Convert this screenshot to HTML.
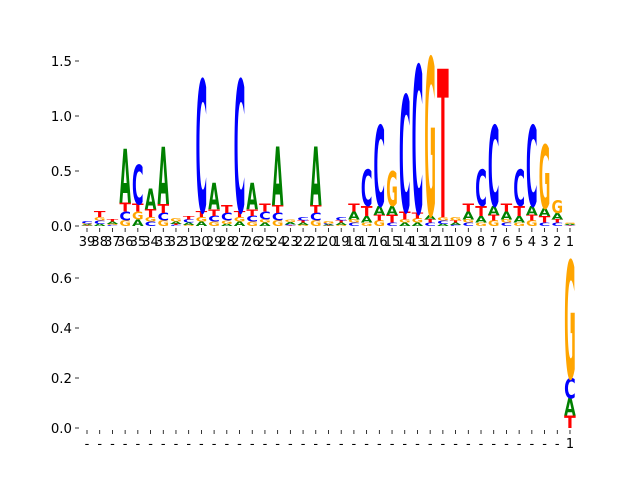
<!DOCTYPE html>
<html><head><meta charset="utf-8"><style>
html,body{margin:0;padding:0;background:#fff}
svg{display:block}
text{font-family:"DejaVu Sans","Liberation Sans",sans-serif}
</style></head><body>
<svg id="chart" width="640" height="480" viewBox="0 0 640 480" xmlns="http://www.w3.org/2000/svg">
<g id="top"></g>
<g id="bot"></g>
</svg>
<script>
const positions = [39,38,37,36,35,34,33,32,31,30,29,28,27,26,25,24,23,22,21,20,19,18,17,16,15,14,13,12,11,10,9,8,7,6,5,4,3,2,1];
const topA = [.01,.02,.02,.49,.06,.19,.52,.02,.02,.04,.24,.02,.04,.24,.03,.53,.02,.02,.53,.01,.02,.07,.06,.08,.08,.03,.03,.04,.02,.02,.07,.06,.08,.07,.06,.08,.07,.06,.01];
const topC = [.02,.03,.01,.08,.36,.04,.07,.01,.03,1.2,.05,.07,1.2,.05,.07,.07,.01,.03,.07,.01,.03,.03,.33,.73,.03,1.06,1.34,.03,.03,.01,.03,.33,.73,.03,.33,.73,.03,.03,.005];
const topG = [.01,.03,.01,.05,.07,.04,.05,.03,.01,.04,.04,.03,.04,.04,.03,.05,.02,.01,.05,.02,.01,.03,.03,.05,.31,.03,.04,1.43,.03,.03,.03,.03,.05,.03,.03,.05,.58,.12,.01];
const topT = [.005,.05,.02,.08,.07,.07,.08,.01,.03,.05,.06,.07,.05,.06,.07,.07,.005,.02,.07,.005,.02,.07,.09,.05,.07,.07,.05,.03,1.35,.02,.07,.09,.05,.07,.09,.05,.06,.03,.005];
const botA = positions.map(p => p===1 ? .07 : 0);
const botC = positions.map(p => p===1 ? .08 : 0);
const botG = positions.map(p => p===1 ? .47 : 0);
const botT = positions.map(p => p===1 ? .05 : 0);
const topYTicks = [0, 0.5, 1.0, 1.5];
const topYLabels = ["0.0","0.5","1.0","1.5"];
const botYTicks = [0, 0.2, 0.4, 0.6];
const botYLabels = ["0.0","0.2","0.4","0.6"];

const NS = "http://www.w3.org/2000/svg";
const colors = {A:"#008000",C:"#0000ff",G:"#ffa500",T:"#ff0000"};
const adv = {A:77.4,C:73.4,G:82.1,T:68.2};
const xOf = p => 87 + 12.71*(39-p);
const topY = v => 226 - v*110;
const botY = v => 428 - v*250;
const LW = 11.6;

function mk(tag, attrs, parent){const e=document.createElementNS(NS,tag);for(const k in attrs)e.setAttribute(k,attrs[k]);parent.appendChild(e);return e;}

function drawPanel(g, yFn, A, C, G, T, yTicks, yLabels, xLabelFn, prefix){
  positions.forEach((p,i)=>{
    const x = xOf(p);
    const stack = [["A",A[i]],["C",C[i]],["G",G[i]],["T",T[i]]].filter(s=>s[1]>0).sort((a,b)=>a[1]-b[1]);
    let base = 0;
    stack.forEach(([L,h])=>{
      const y0 = yFn(base), y1 = yFn(base+h);
      const hp = y0-y1;
      const t = mk("text",{x:0,y:0,"font-size":100,"font-weight":"bold",fill:colors[L],
        transform:`translate(${x-LW/2},${y0}) scale(${LW/adv[L]},${hp/72.9})`},g);
      t.textContent = L;
      
      
      base += h;
    });
    const tk = mk("line",{x1:x,x2:x,y1:yFn(0)+2,y2:yFn(0)+6,stroke:"#000","stroke-width":0.8},g);
    
    
    const lb = mk("text",{x:x,y:yFn(0)+20,"font-size":13,"text-anchor":"middle",fill:"#000"},g);
    lb.textContent = xLabelFn(p);
    
    
  });
  yTicks.forEach((v,i)=>{
    const y = yFn(v);
    const tk = mk("line",{x1:75,x2:79,y1:y,y2:y,stroke:"#000","stroke-width":0.8},g);
    
    
    const lb = mk("text",{x:72,y:y+5,"font-size":13.3,"text-anchor":"end",fill:"#000"},g);
    lb.textContent = yLabels[i];
    
    
  });
}
drawPanel(document.getElementById("top"), topY, topA, topC, topG, topT, topYTicks, topYLabels, p=>String(p), "top");
drawPanel(document.getElementById("bot"), botY, botA, botC, botG, botT, botYTicks, botYLabels, p=>p===1?"1":"-", "bottom");
</script>
</body></html>
